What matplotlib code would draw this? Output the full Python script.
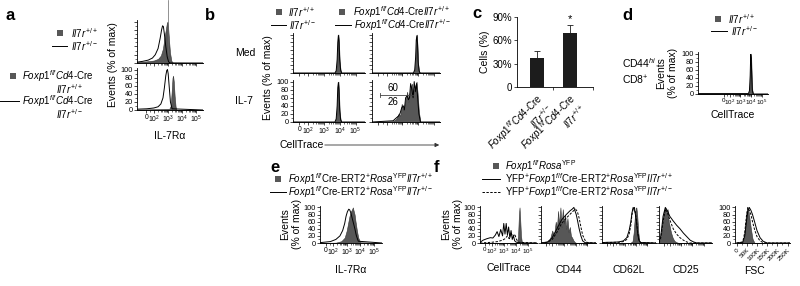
import numpy as np
import matplotlib.pyplot as plt
from matplotlib.lines import Line2D
from matplotlib.patches import Rectangle, FancyArrowPatch

plt.rcParams['font.family'] = ['Liberation Sans', 'DejaVu Sans']
plt.rcParams['mathtext.fontset'] = 'custom'
plt.rcParams['mathtext.rm'] = 'Liberation Sans'
plt.rcParams['mathtext.it'] = 'Liberation Sans:italic'
plt.rcParams['mathtext.bf'] = 'Liberation Sans:bold'

# ---------------- data ----------------
# histogram x values on the display scale: 0 -> ~1.5, 10^2 -> 2, 10^3 -> 3 ...; y = % of max
ev_ticks = [0, 20, 40, 60, 80, 100]
log_pos = [1.45, 2, 3, 4, 5]
log_labels = ['0', '$10^2$', '$10^3$', '$10^4$', '$10^5$']

# a: IL-7Ra
a_top_wt_x = [0.8, 1.5, 2.0, 2.3, 2.5, 2.65, 2.75, 2.85, 2.92, 2.97, 3.02, 3.08, 3.15, 3.25, 3.35, 5.5]
a_top_wt_y = [2, 4, 6, 10, 18, 35, 60, 80, 95, 100, 85, 55, 25, 5, 1, 0]
a_top_het_x = [0.8, 1.2, 1.6, 1.9, 2.1, 2.3, 2.45, 2.55, 2.62, 2.68, 2.75, 2.85, 2.95, 3.05, 3.15, 5.5]
a_top_het_y = [2, 4, 7, 12, 20, 35, 60, 80, 90, 88, 70, 40, 15, 3, 0, 0]
a_bot_wt_x = [0.8, 2.0, 3.1, 3.2, 3.27, 3.33, 3.37, 3.42, 3.48, 3.55, 3.62, 5.5]
a_bot_wt_y = [1, 2, 3, 10, 45, 80, 85, 70, 35, 8, 0, 0]
a_bot_het_x = [0.8, 1.5, 2.0, 2.3, 2.5, 2.65, 2.75, 2.85, 2.92, 2.97, 3.02, 3.1, 3.18, 3.3, 5.5]
a_bot_het_y = [2, 3, 5, 8, 15, 30, 55, 85, 98, 100, 90, 55, 20, 3, 0]

# b: CellTrace dilution
b_peak_x = [1.05, 3.7, 3.78, 3.84, 3.88, 3.92, 3.96, 4.0, 4.06, 4.12, 5.6]
b_med_wt_y = [0, 0, 8, 40, 85, 100, 75, 30, 6, 0, 0]
b_med_het_y = [0, 0, 6, 35, 80, 98, 80, 35, 8, 0, 0]
b_il7_wt_y = [0, 0, 10, 45, 90, 100, 70, 25, 5, 0, 0]
b_il7_het_y = [0, 0, 8, 40, 85, 98, 75, 30, 6, 0, 0]
b_ko_med_wt_y = [0, 0, 10, 45, 90, 100, 70, 25, 5, 0, 0]
b_ko_med_het_y = [0, 0, 8, 40, 85, 97, 78, 30, 6, 0, 0]
b_ko_il7_x = [1.05, 2.4, 2.6, 2.75, 2.85, 2.95, 3.05, 3.12, 3.2, 3.3, 3.38, 3.45, 3.52, 3.6, 3.68,
              3.75, 3.82, 3.9, 3.97, 4.05, 4.15, 5.6]
b_ko_il7_wt_y = [0, 2, 8, 20, 15, 45, 30, 40, 55, 75, 50, 70, 85, 95, 70, 80, 90, 100, 70, 25, 0, 0]
b_ko_il7_het_y = [0, 3, 10, 15, 22, 35, 40, 30, 60, 65, 55, 60, 95, 80, 60, 100, 75, 95, 60, 20, 0, 0]
b_gate = [1.55, 3.65, 67]
b_gate_labels = ['60', '26']

# c: bar chart
c_labels = [r'$\mathit{Foxp1}^{f/f}\mathit{Cd4}$-Cre' + '\n' + r'$\mathit{Il7r}^{+/-}$',
            r'$\mathit{Foxp1}^{f/f}\mathit{Cd4}$-Cre' + '\n' + r'$\mathit{Il7r}^{+/+}$']
c_vals = [37, 69]
c_err = [9, 11]
c_ticks = [0, 30, 60, 90]
c_ticklabels = ['0', '30%', '60%', '90%']

# d: CD44hi CD8+
d_x = [-1.0, 3.75, 3.85, 3.92, 3.97, 4.02, 4.07, 4.12, 4.2, 5.6]
d_wt_y = [1, 1, 10, 50, 100, 85, 40, 10, 0, 0]
d_het_y = [1, 1, 8, 45, 98, 88, 42, 10, 0, 0]

# e: IL-7Ra, Cre-ERT2
e_wt_x = [1.03, 2.2, 2.6, 2.85, 3.0, 3.1, 3.2, 3.3, 3.4, 3.45, 3.5, 3.58, 3.65, 3.75, 3.85, 4.0, 5.6]
e_wt_y = [0, 1, 5, 15, 35, 55, 75, 88, 95, 100, 92, 80, 60, 35, 15, 2, 0]
e_het_x = [1.03, 1.8, 2.2, 2.5, 2.7, 2.85, 2.95, 3.05, 3.15, 3.22, 3.3, 3.4, 3.5, 3.6, 3.7, 3.85, 5.6]
e_het_y = [1, 4, 10, 20, 35, 55, 75, 88, 95, 93, 85, 70, 55, 40, 22, 5, 0]

# f: CellTrace, CD44, CD62L, CD25, FSC
f_ct_ctrl_x = [1.04, 4.1, 4.18, 4.25, 4.3, 4.35, 4.42, 4.5, 5.74]
f_ct_ctrl_y = [0, 0, 20, 80, 100, 70, 20, 0, 0]
f_ct_wt_x = [1.04, 1.3, 1.6, 1.9, 2.1, 2.3, 2.45, 2.6, 2.75, 2.9, 3.0, 3.1, 3.2, 3.3, 3.4, 3.5, 3.6,
             3.7, 3.8, 3.9, 4.0, 4.2, 5.74]
f_ct_wt_y = [2, 8, 12, 15, 14, 22, 32, 18, 38, 20, 55, 25, 55, 22, 45, 15, 35, 10, 20, 6, 3, 0, 0]
f_ct_het_x = [1.04, 2.0, 2.5, 2.9, 3.1, 3.3, 3.45, 3.6, 3.75, 3.9, 4.05, 4.2, 5.74]
f_ct_het_y = [0, 2, 4, 8, 12, 20, 12, 28, 18, 25, 10, 2, 0]

f_44_ctrl_x = [1.04, 1.5, 1.8, 2.0, 2.15, 2.3, 2.4, 2.5, 2.6, 2.7, 2.8, 2.9, 3.0, 3.1, 3.2, 3.3, 3.4,
               3.5, 3.6, 3.7, 3.8, 3.9, 4.0, 4.1, 5.74]
f_44_ctrl_y = [0, 2, 10, 35, 20, 60, 40, 90, 50, 100, 45, 95, 55, 80, 40, 70, 30, 45, 20, 15, 8, 3, 1, 0, 0]
f_44_wt_x = [1.04, 1.6, 2.0, 2.4, 2.8, 3.2, 3.5, 3.7, 3.85, 3.95, 4.05, 4.15, 4.3, 4.45, 4.6, 4.8, 5.74]
f_44_wt_y = [0, 3, 15, 40, 65, 80, 90, 95, 100, 90, 80, 65, 40, 20, 6, 1, 0]
f_44_het_x = [1.04, 1.6, 2.0, 2.4, 2.8, 3.2, 3.5, 3.8, 4.0, 4.15, 4.3, 4.45, 4.6, 4.8, 5.0, 5.74]
f_44_het_y = [0, 2, 10, 30, 55, 70, 80, 90, 95, 88, 70, 45, 22, 8, 1, 0]

f_62_ctrl_x = [1.04, 3.5, 3.7, 3.8, 3.9, 3.97, 4.03, 4.1, 4.2, 4.3, 5.74]
f_62_ctrl_y = [0, 0, 5, 30, 75, 98, 100, 80, 30, 3, 0]
f_62_x = [1.04, 1.5, 2.0, 2.5, 2.9, 3.2, 3.4, 3.55, 3.65, 3.75, 3.85, 3.95, 4.05, 4.15, 4.25, 4.4, 5.74]
f_62_wt_y = [1, 2, 2, 3, 6, 15, 35, 60, 85, 100, 95, 80, 55, 25, 8, 1, 0]
f_62_het_y = [1, 1, 2, 2, 4, 10, 25, 50, 80, 95, 100, 85, 60, 30, 10, 1, 0]

f_25_ctrl_x = [1.04, 1.2, 1.35, 1.5, 1.6, 1.7, 1.8, 1.9, 2.0, 2.1, 2.25, 2.4, 2.6, 2.8, 5.74]
f_25_ctrl_y = [0, 15, 60, 90, 100, 80, 95, 60, 45, 30, 15, 6, 2, 0, 0]
f_25_wt_x = [1.04, 1.2, 1.4, 1.6, 1.8, 2.0, 2.3, 2.6, 2.9, 3.2, 3.5, 3.8, 4.1, 4.4, 5.74]
f_25_wt_y = [0, 20, 75, 100, 90, 75, 62, 50, 40, 28, 18, 8, 3, 0, 0]
f_25_het_x = [1.04, 1.2, 1.4, 1.6, 1.8, 2.0, 2.3, 2.6, 2.9, 3.2, 3.5, 3.8, 5.74]
f_25_het_y = [0, 15, 60, 95, 85, 65, 40, 25, 15, 8, 3, 0, 0]

f_fsc_ctrl_x = [0, 25e3, 35e3, 42e3, 48e3, 53e3, 58e3, 63e3, 70e3, 78e3, 88e3, 262144]
f_fsc_ctrl_y = [0, 0, 10, 45, 85, 100, 90, 70, 40, 12, 0, 0]
f_fsc_x = [0, 30e3, 40e3, 48e3, 55e3, 62e3, 70e3, 78e3, 88e3, 100e3, 115e3, 130e3, 150e3, 262144]
f_fsc_wt_y = [0, 2, 20, 60, 90, 100, 92, 80, 60, 35, 15, 5, 0, 0]
f_fsc_het_y = [0, 3, 30, 75, 100, 92, 80, 60, 38, 18, 6, 1, 0, 0]
fsc_ticks = [0, 50000, 100000, 150000, 200000, 250000]
fsc_labels = ['0', '50K', '100K', '150K', '200K', '250K']

# ---------------- drawing ----------------
W, H = 800, 286
GRAY = '#575757'
LEG = 7
LAB = 7.5
fig = plt.figure(figsize=(8, 2.86), dpi=100)


def box(l, t, r, b):
    return [l / W, 1 - b / H, (r - l) / W, (b - t) / H]


def fx(x):
    return x / W


def fy(y):
    return 1 - y / H


def txt(x, y, s, size=LEG, **kw):
    fig.text(fx(x), fy(y), s, fontsize=size, va='center', **kw)


def square(x, y, s=6):
    fig.add_artist(Rectangle((fx(x - s / 2), fy(y + s / 2)), s / W, s / H,
                             transform=fig.transFigure, color=GRAY, lw=0))


def hline(x0, x1, y, ls='-'):
    fig.add_artist(Line2D([fx(x0), fx(x1)], [fy(y), fy(y)], transform=fig.transFigure,
                          color='black', lw=0.7, ls=ls))


def hist_ax(rect, xlim, ylab=False, xlab=True, logx=True, xsize=4.9):
    ax = fig.add_axes(box(*rect))
    ax.set_xlim(xlim)
    ax.set_ylim(0, 104)
    for s in ['top', 'right']:
        ax.spines[s].set_visible(False)
    for s in ['left', 'bottom']:
        ax.spines[s].set_linewidth(0.6)
    ax.set_yticks(ev_ticks)
    ax.set_yticks(np.arange(0, 101, 10), minor=True)
    if not ylab:
        ax.set_yticklabels([])
    if logx:
        ax.set_xticks(log_pos)
        minors = [d + np.log10(k) for d in (2, 3, 4) for k in range(2, 10)]
        ax.set_xticks(minors + [1.75], minor=True)
        if xlab:
            ax.set_xticklabels(log_labels)
        else:
            ax.set_xticklabels([])
    ax.tick_params(which='major', direction='out', length=2, width=0.5, pad=1)
    ax.tick_params(axis='x', labelsize=xsize)
    ax.tick_params(axis='y', labelsize=5.3)
    ax.tick_params(which='minor', direction='out', length=1.2, width=0.4)
    return ax


def draw(ax, fill=None, line=None, dash=None):
    if fill is not None:
        ax.fill_between(fill[0], fill[1], color=GRAY, lw=0.4, ec='#333333')
    if line is not None:
        ax.plot(line[0], line[1], color='black', lw=0.7)
    if dash is not None:
        ax.plot(dash[0], dash[1], color='black', lw=0.7, ls=(0, (2.5, 1.5)))


# ---- panel a ----
txt(5, 15, 'a', size=12, weight='bold')
square(60, 33)
txt(71, 33, r'$\mathit{Il7r}^{+/+}$')
hline(52, 67, 46)
txt(71, 46, r'$\mathit{Il7r}^{+/-}$')
square(13, 76)
txt(22, 76, r'$\mathit{Foxp1}^{f/f}\mathit{Cd4}$-Cre')
txt(69, 89, r'$\mathit{Il7r}^{+/+}$', ha='center')
hline(0, 19, 101)
txt(22, 101, r'$\mathit{Foxp1}^{f/f}\mathit{Cd4}$-Cre')
txt(69, 114, r'$\mathit{Il7r}^{+/-}$', ha='center')

ax = hist_ax((137, 20, 203, 63), (0.8, 5.5), xlab=False)
draw(ax, (a_top_wt_x, a_top_wt_y), (a_top_het_x, a_top_het_y))
ax = hist_ax((137, 68, 203, 110), (0.8, 5.5), ylab=True)
draw(ax, (a_bot_wt_x, a_bot_wt_y), (a_bot_het_x, a_bot_het_y))
ax.set_xlabel('IL-7R\u03b1', fontsize=LAB, labelpad=4)
fig.add_artist(Line2D([fx(168), fx(168)], [fy(0), fy(55)], transform=fig.transFigure,
                      color='#666666', lw=0.5))
txt(113, 65, 'Events (% of max)', size=LAB, rotation=90, ha='center')

# ---- panel b ----
txt(205, 15, 'b', size=12, weight='bold')
square(279, 12)
txt(288, 12, r'$\mathit{Il7r}^{+/+}$')
hline(271, 286, 25)
txt(289, 25, r'$\mathit{Il7r}^{+/-}$')
square(342, 12)
txt(353, 12, r'$\mathit{Foxp1}^{f/f}\mathit{Cd4}$-Cre$\mathit{Il7r}^{+/+}$')
hline(335, 351, 25)
txt(354, 25, r'$\mathit{Foxp1}^{f/f}\mathit{Cd4}$-Cre$\mathit{Il7r}^{+/-}$')
txt(235, 53, 'Med', size=LAB)
txt(235, 101, 'IL-7', size=LAB)
txt(268, 78, 'Events (% of max)', size=LAB, rotation=90, ha='center')

ax = hist_ax((293, 33, 365, 73), (1.05, 5.6), xlab=False)
draw(ax, (b_peak_x, b_med_wt_y), (b_peak_x, b_med_het_y))
ax = hist_ax((293, 80, 365, 122), (1.05, 5.6), ylab=True)
draw(ax, (b_peak_x, b_il7_wt_y), (b_peak_x, b_il7_het_y))
ax = hist_ax((372, 33, 440, 73), (1.05, 5.4), xlab=False)
draw(ax, (b_peak_x, b_ko_med_wt_y), (b_peak_x, b_ko_med_het_y))
ax = hist_ax((372, 80, 440, 122), (1.05, 5.4), xlab=False)
draw(ax, (b_ko_il7_x, b_ko_il7_wt_y), (b_ko_il7_x, b_ko_il7_het_y))
ax.plot(b_gate[:2], [b_gate[2]] * 2, color='#444444', lw=0.6)
ax.plot([b_gate[0]] * 2, [b_gate[2] - 4, b_gate[2] + 4], color='#444444', lw=0.6)
ax.text(2.4, b_gate[2] + 4, b_gate_labels[0], fontsize=7, ha='center', va='bottom')
ax.text(2.4, b_gate[2] - 4, b_gate_labels[1], fontsize=7, ha='center', va='top')
txt(280, 145, 'CellTrace', size=LAB)
fig.add_artist(FancyArrowPatch((fx(322), fy(145)), (fx(442), fy(145)), transform=fig.transFigure,
                               arrowstyle='-|>', mutation_scale=6, lw=0.6, color='#333333'))

# ---- panel c ----
txt(472, 14, 'c', size=12, weight='bold')
ax = fig.add_axes(box(517, 17, 593, 87))
ax.bar([0, 1], c_vals, width=0.42, color='#1c1c1c')
ax.errorbar([0, 1], c_vals, yerr=[[0, 0], c_err], fmt='none', ecolor='#1c1c1c', elinewidth=0.6,
            capsize=2, capthick=0.6)
ax.text(1, c_vals[1] + c_err[1] + 1, '*', fontsize=8, ha='center', va='bottom')
ax.set_xlim(-0.6, 1.7)
ax.set_ylim(0, 90)
for s in ['top', 'right']:
    ax.spines[s].set_visible(False)
for s in ['left', 'bottom']:
    ax.spines[s].set_linewidth(0.6)
ax.set_yticks(c_ticks)
ax.set_yticklabels(c_ticklabels)
ax.set_xticks([])
ax.set_xticks([0.5, 1.7], minor=True)
for i, lab in enumerate(c_labels):
    ax.text(i - 0.05, -5, lab, fontsize=7, rotation=45, ha='right', va='top',
            rotation_mode='anchor', multialignment='right', linespacing=1.0, clip_on=False)
ax.tick_params(axis='x', which='minor', length=2, width=0.5, direction='out')
ax.tick_params(axis='y', length=2, width=0.5, labelsize=7, pad=1.5)
ax.set_ylabel('Cells (%)', fontsize=LAB, labelpad=2)

# ---- panel d ----
txt(622, 15, 'd', size=12, weight='bold')
square(718, 19)
txt(728, 19, r'$\mathit{Il7r}^{+/+}$')
hline(711, 727, 31)
txt(731, 31, r'$\mathit{Il7r}^{+/-}$')
txt(622, 63, r'CD44$^{\mathit{hi}}$', size=LAB)
txt(622, 80, r'CD8$^{+}$', size=LAB)
txt(667, 73, 'Events\n(% of max)', size=LAB, rotation=90, ha='center')
ax = hist_ax((698, 52, 768, 94), (-1.0, 5.6), ylab=True, xsize=4.5)
draw(ax, (d_x, d_wt_y), (d_x, d_het_y))
ax.set_xlabel('CellTrace', fontsize=LAB, labelpad=2)

# ---- panel e ----
txt(270, 167, 'e', size=12, weight='bold')
square(278, 179)
txt(288, 179, r'$\mathit{Foxp1}^{f/f}$Cre-ERT2$^{+}$$\mathit{Rosa}^{\mathrm{YFP}}\mathit{Il7r}^{+/+}$')
hline(270, 286, 192)
txt(288, 192, r'$\mathit{Foxp1}^{f/f}$Cre-ERT2$^{+}$$\mathit{Rosa}^{\mathrm{YFP}}\mathit{Il7r}^{+/-}$')
txt(291, 224, 'Events\n(% of max)', size=LAB, rotation=90, ha='center')
ax = hist_ax((320, 206, 382, 243), (1.03, 5.6), ylab=True)
draw(ax, (e_wt_x, e_wt_y), (e_het_x, e_het_y))
ax.set_xlabel('IL-7R\u03b1', fontsize=LAB, labelpad=5)

# ---- panel f ----
txt(434, 167, 'f', size=12, weight='bold')
square(496, 166)
txt(505, 166, r'$\mathit{Foxp1}^{f/f}\mathit{Rosa}^{\mathrm{YFP}}$')
hline(482, 500, 179)
txt(505, 179, r'YFP$^{+}$$\mathit{Foxp1}^{f/f}$Cre-ERT2$^{+}$$\mathit{Rosa}^{\mathrm{YFP}}\mathit{Il7r}^{+/+}$')
hline(482, 500, 192, ls=(0, (2.5, 1.5)))
txt(505, 192, r'YFP$^{+}$$\mathit{Foxp1}^{f/f}$Cre-ERT2$^{+}$$\mathit{Rosa}^{\mathrm{YFP}}\mathit{Il7r}^{+/-}$')
txt(452, 224, 'Events\n(% of max)', size=LAB, rotation=90, ha='center')

ax = hist_ax((480, 206, 537, 243), (1.04, 5.74), ylab=True, xsize=4.5)
draw(ax, (f_ct_ctrl_x, f_ct_ctrl_y), (f_ct_wt_x, f_ct_wt_y), (f_ct_het_x, f_ct_het_y))
ax.set_xlabel('CellTrace', fontsize=LAB, labelpad=5)

ax = hist_ax((541, 206, 596, 243), (1.04, 5.74), xlab=False)
draw(ax, (f_44_ctrl_x, f_44_ctrl_y), (f_44_wt_x, f_44_wt_y), (f_44_het_x, f_44_het_y))
ax.set_xlabel('CD44', fontsize=LAB, labelpad=11)

ax = hist_ax((602, 206, 656, 243), (1.04, 5.74), xlab=False)
draw(ax, (f_62_ctrl_x, f_62_ctrl_y), (f_62_x, f_62_wt_y), (f_62_x, f_62_het_y))
ax.set_xlabel('CD62L', fontsize=LAB, labelpad=11)

ax = hist_ax((659, 206, 712, 243), (1.04, 5.74), xlab=False)
draw(ax, (f_25_ctrl_x, f_25_ctrl_y), (f_25_wt_x, f_25_wt_y), (f_25_het_x, f_25_het_y))
ax.set_xlabel('CD25', fontsize=LAB, labelpad=11)

ax = hist_ax((735, 206, 790, 243), (-8000, 262144), ylab=True, logx=False, xsize=4.6)
draw(ax, (f_fsc_ctrl_x, f_fsc_ctrl_y), (f_fsc_x, f_fsc_wt_y), (f_fsc_x, f_fsc_het_y))
ax.set_xticks(fsc_ticks)
ax.set_xticklabels(fsc_labels, rotation=45, ha='right', rotation_mode='anchor')
ax.set_xticks(np.arange(0, 262144, 25000), minor=True)
ax.set_xlabel('FSC', fontsize=LAB, labelpad=2)
ax.xaxis.set_label_coords(0.35, -0.62)

fig.savefig('out.png', dpi=100)
